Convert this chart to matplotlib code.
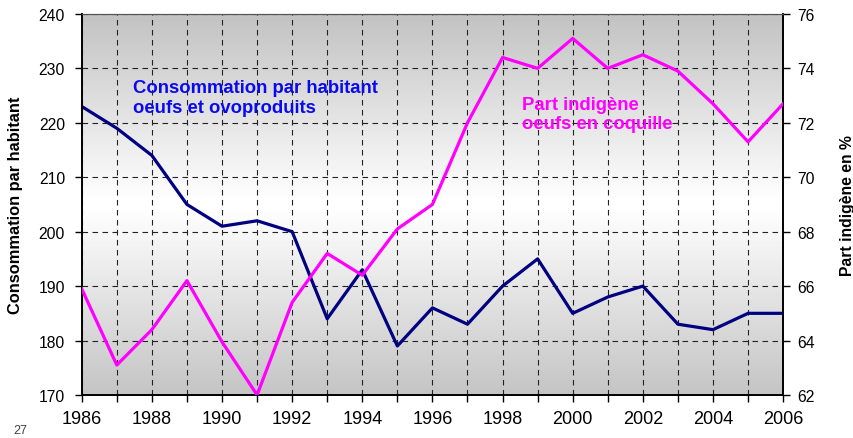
import matplotlib.pyplot as plt
import numpy as np

plt.rcParams['font.family'] = ['Liberation Sans', 'DejaVu Sans']

years = list(range(1986, 2007))
consommation = [223, 219, 214, 205, 201, 202, 200, 184, 193, 179, 186,
                183, 190, 195, 185, 188, 190, 183, 182, 185, 185]
part_indigene = [65.9, 63.1, 64.4, 66.2, 63.95, 62.0, 65.4, 67.2, 66.4, 68.1, 69.0,
                 72.0, 74.4, 74.0, 75.1, 74.0, 74.5, 73.9, 72.7, 71.3, 72.7]

fig = plt.figure(figsize=(8.54, 4.39), dpi=100)
ax = fig.add_axes([0.0957, 0.098, 0.8213, 0.868])

# gradient background: gray at top and bottom, white in the middle
g = np.concatenate([np.linspace(0.76, 1.0, 50), np.linspace(1.0, 0.77, 50)])
g = np.array([[v] for v in g])
ax.imshow(g, cmap='gray', vmin=0, vmax=1, aspect='auto', extent=[0, 1, 0, 1],
          transform=ax.transAxes, zorder=0, interpolation='bicubic')

ax.plot(years, consommation, color='#000080', lw=2.3, zorder=3)
ax.set_xlim(1986, 2006)
ax.set_ylim(170, 240)
ax.set_xticks(range(1986, 2007, 2))
ax.set_xticks(range(1986, 2007), minor=True)
ax.set_yticks(range(170, 241, 10))
ax.grid(True, which='both', axis='x', color='#222222', ls=(0, (5, 4)), lw=0.8, zorder=1)
ax.grid(True, axis='y', color='#222222', ls=(0, (5, 4)), lw=0.8, zorder=1)
ax.set_axisbelow(False)
ax.tick_params(axis='both', which='both', direction='out', length=5, width=1)
ax.tick_params(axis='x', labelsize=13, pad=6)
ax.tick_params(axis='y', labelsize=11.3, pad=7)
ax.set_ylabel('Consommation par habitant', fontsize=11.8, fontweight='bold', labelpad=11)

ax2 = ax.twinx()
ax2.plot(years, part_indigene, color='#FF00FF', lw=2.3, zorder=3)
ax2.set_ylim(62, 76)
ax2.set_yticks(range(62, 77, 2))
ax2.tick_params(axis='y', direction='out', labelsize=11.3, length=5, width=1, pad=5)
ax2.set_ylabel('Part indigène en %', fontsize=11.3, fontweight='bold', labelpad=18)

for s in ['left', 'bottom', 'right']:
    ax2.spines[s].set_linewidth(1.2)
    ax.spines[s].set_linewidth(1.2)
ax.spines['top'].set_color('#555555')
ax2.spines['top'].set_color('#555555')

ax.text(0.073, 0.78, 'Consommation par habitant\noeufs et ovoproduits',
        transform=ax.transAxes, color='#0a0aee', fontsize=13.3, fontweight='bold',
        va='center', ha='left', linespacing=1.2, zorder=6)
ax2.text(0.628, 0.737, 'Part indigène\noeufs en coquille',
         transform=ax.transAxes, color='#FF00FF', fontsize=13.3, fontweight='bold',
         va='center', ha='left', linespacing=1.2, zorder=6)

fig.text(0.016, 0.012, '27', fontsize=9, color='#444444')

fig.savefig('out.png', dpi=100)
